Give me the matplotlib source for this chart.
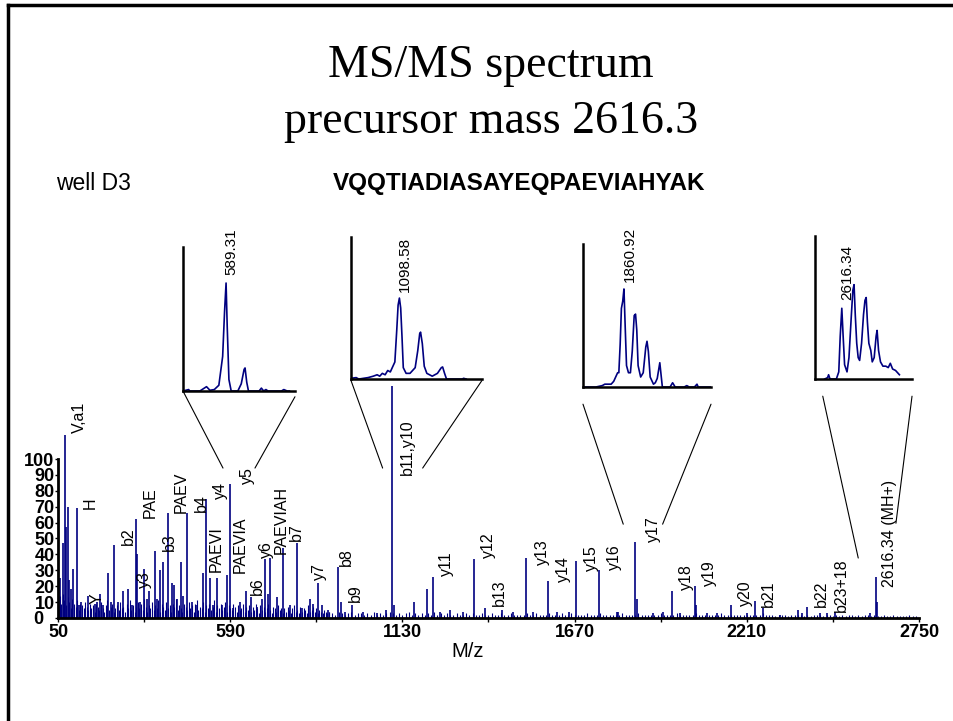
import numpy as np
import matplotlib
matplotlib.use("Agg")
import matplotlib.pyplot as plt
import matplotlib.transforms as mtransforms
from matplotlib.patches import ConnectionPatch
from matplotlib.lines import Line2D

plt.rcParams['font.family'] = ['Liberation Sans', 'DejaVu Sans']

BLUE = '#000080'

# main spectrum: labelled / notable peaks (m/z, relative intensity)
peak_mz = [51, 55, 66, 72, 75, 80, 84.5, 91, 98, 110, 115, 122, 145, 166, 171, 182, 192,
           206, 216, 225.6, 239, 255, 269.5, 281, 294.6, 297.7, 307, 319.7, 328, 336, 354,
           361, 370, 378, 394, 406.5, 415, 422, 435.7, 443, 453.5, 469, 485, 505.7, 515,
           526.6, 537, 549.6, 563, 579, 589.3, 600, 621, 639.5, 654, 673, 689, 699, 707.5,
           714.8, 735.8, 754.6, 777.5, 798.4, 814, 840, 850.6, 866, 877, 898, 927, 936.5,
           950, 973, 1007, 1049, 1078.5, 1098.6, 1103.6, 1167, 1206, 1225, 1248, 1279, 1321,
           1353.5, 1389, 1441, 1478, 1517.5, 1540, 1587.5, 1614, 1653, 1674, 1746.5, 1802,
           1807, 1860.9, 1864.6, 1917, 1948, 1974, 2000, 2046.6, 2050.6, 2084, 2115.5, 2160,
           2209.5, 2235.6, 2259.7, 2314, 2371, 2382, 2397.7, 2439.5, 2460.4, 2486.5, 2596,
           2616.3, 2619]
peak_int = [100, 25, 47, 115, 57, 70, 24, 18, 31, 69, 8, 10, 14, 9, 10, 15, 8,
            28, 10, 46, 10, 17, 18, 8, 62, 40, 10, 31, 12, 17, 42,
            12, 30, 35, 66, 22, 21, 12, 35, 14, 66, 10, 8, 28, 75,
            25, 8, 25, 8, 27, 84, 6, 10, 17, 13, 7, 12, 37, 15,
            38, 13, 44, 8, 47, 6, 12, 9, 22, 8, 5, 32, 10,
            4, 8, 4, 3, 5, 146, 8, 10, 18, 26, 4, 5, 4,
            37, 6, 5, 4, 38, 4, 23, 4, 4, 36, 30, 4,
            4, 48, 12, 3, 4, 17, 3, 20, 8, 3, 3, 8,
            3, 10.5, 6, 2, 5, 3, 7, 3, 3, 4, 3,
            26, 10]

# noise floor, 50-900 every 5 m/z and 900-2750 every 10 m/z
noise_low = [12, 14, 9, 15, 11, 8, 13, 10, 6, 12, 9, 7, 11, 5, 9, 8, 6, 10, 7, 5, 9,
             6, 8, 4, 9, 7, 5, 10, 6, 4, 8, 11, 5, 7, 9, 4, 6, 8, 5, 10, 6,
             7, 4, 9, 6, 11, 5, 8, 4, 7, 10, 6, 9, 5, 12, 7, 4, 8, 6, 10, 5,
             8, 6, 11, 4, 9, 7, 5, 10, 6, 8, 4, 9, 7, 12, 5, 8, 6, 4, 9, 7,
             5, 10, 6, 8, 4, 9, 11, 5, 7, 6, 10, 4, 8, 6, 9, 5, 7, 11, 4, 8,
             6, 9, 5, 7, 10, 4, 8, 6, 5, 9, 7, 4, 8, 5, 6, 9, 4, 7, 5, 8,
             4, 7, 5, 9, 6, 3, 8, 5, 7, 4, 6, 9, 5, 3, 7, 6, 4, 8, 5, 6,
             3, 6, 4, 7, 5, 3, 6, 8, 4, 5, 3, 7, 4, 6, 5, 3, 8, 4, 5, 7,
             4, 6, 3, 5, 4, 3, 5, 4, 3, 4]
noise_high = [4, 3, 2, 4, 3, 2, 3, 4, 2, 3,
              3, 2, 3, 2, 4, 2, 3, 2, 3, 4,
              3, 2, 3, 2, 3, 4, 2, 3, 2, 3,
              2, 3, 2, 4, 2, 3, 2, 3, 2, 2,
              3, 2, 2, 3, 2, 3, 2, 2, 3, 2,
              2, 3, 2, 2, 3, 2, 2, 3, 2, 2,
              2, 2, 3, 2, 2, 3, 2, 2, 2, 3,
              2, 2, 2, 3, 2, 2, 3, 2, 2, 2,
              2, 3, 2, 2, 2, 3, 2, 2, 2, 2,
              2, 2, 3, 2, 2, 2, 2, 3, 2, 2,
              2, 2, 2, 2, 3, 2, 2, 2, 2, 3,
              2, 2, 2, 2, 2, 3, 2, 2, 2, 2,
              2, 2, 2, 3, 2, 2, 2, 2, 2, 2,
              2, 2, 2, 2, 2, 2, 3, 2, 2, 2,
              1, 2, 2, 2, 1, 2, 2, 2, 2, 1,
              2, 1, 2, 2, 2, 1, 2, 2, 1, 2,
              1, 2, 1, 2, 2, 1, 2, 1, 2, 2,
              1, 2, 1, 1, 2, 1, 1, 2, 1, 1,
              1, 1, 2, 1, 1, 1]
noise_low_mz = np.arange(50, 901, 5)
noise_high_mz = np.arange(900, 2751, 10)

# fragment labels (text, m/z, intensity of label centre)
ion_labels = ['V,a1', 'H', 'Y', 'b2', 'y3', 'PAE', 'b3', 'PAEV', 'b4', 'PAEVI', 'y4',
              'PAEVIA', 'y5', 'b6', 'y6', 'PAEVIAH', 'b7', 'y7', 'b8', 'b9', 'b11,y10',
              'y11', 'y12', 'b13', 'y13', 'y14', 'y15', 'y16', 'y17', 'y18', 'y19', 'y20',
              'b21', 'b22', 'b23+18', '2616.34 (MH+)']
ion_mz = [116.9, 150.3, 173.3, 270.5, 319.7, 338.5, 399, 437.8, 500.6, 547.6, 560.2,
          622.9, 643.6, 675, 704.4, 749.3, 798.5, 869.4, 955.3, 981.3, 1145.3,
          1268.9, 1399.3, 1433.8, 1568.6, 1634.5, 1721.4, 1796.6, 1916.7, 2021.4, 2094.5,
          2207.4, 2277.4, 2442.6, 2507.5, 2659]
ion_y = [126.2, 72.1, 12.4, 51.6, 24.3, 72.5, 48, 78.8, 72.1, 43.4, 80.5,
         45.9, 89.5, 20.3, 42.8, 61.6, 53.9, 29.1, 38.6, 15.9, 107.7,
         34.4, 45.5, 16.1, 41.7, 30.8, 37.5, 38.2, 56, 26, 28.1,
         15.5, 15.5, 15.5, 20.8, 53.3]

x_ticks = [50, 590, 1130, 1670, 2210, 2750]
x_minor = [320, 860, 1400, 1940, 2480]
y_ticks = list(range(0, 101, 10))

# zoomed isotope clusters
inset1_mz = [587.04, 587.34, 587.39, 587.93, 588.28, 588.46, 588.69, 588.93, 589.13, 589.23,
             589.31, 589.37, 589.46, 589.58, 589.93, 590.11, 590.26, 590.31, 590.40, 590.49,
             591.05, 591.17, 591.29, 591.41, 591.52, 592.23, 592.35, 592.53, 592.65]
inset1_int = [0, 1, 0, 0, 3, 0.5, 1, 4, 24, 55, 75, 45, 8, 0, 0, 5, 15, 16, 6, 0,
              0, 2, 0, 1, 0, 0, 1, 0, 0]
inset2_mz = [1096.34, 1096.58, 1096.70, 1097.13, 1097.37, 1097.55, 1097.67, 1097.79, 1097.92,
             1098.04, 1098.16, 1098.28, 1098.37, 1098.46, 1098.52, 1098.58, 1098.64, 1098.70,
             1098.76, 1098.89, 1099.07, 1099.31, 1099.43, 1099.52, 1099.56, 1099.64, 1099.73,
             1099.85, 1100.10, 1100.34, 1100.52, 1100.58, 1100.67, 1100.76, 1101.49, 1101.55,
             1101.67]
inset2_int = [0.5, 1, 0, 1, 2, 3, 2, 4, 3, 6, 5, 9, 12, 35, 52, 57, 50, 30, 8, 4,
              4, 8, 20, 32, 33, 25, 9, 4, 2, 4, 8, 8.5, 4, 0, 0, 0.5, 0]
inset3_mz = [1857.56, 1858.61, 1859.14, 1859.35, 1859.87, 1860.08, 1860.40, 1860.50, 1860.61,
             1860.71, 1860.82, 1860.92, 1861.03, 1861.13, 1861.29, 1861.45, 1861.60, 1861.76,
             1861.87, 1861.97, 1862.08, 1862.29, 1862.50, 1862.71, 1862.81, 1862.92, 1863.07,
             1863.34, 1863.49, 1863.65, 1863.86, 1863.97, 1864.07, 1864.70, 1864.91, 1865.12,
             1865.86, 1866.07, 1866.28, 1866.70, 1866.91, 1867.01, 1868.06]
inset3_int = [0, 0, 1, 2, 2, 4, 10, 10, 30, 55, 60, 68.6, 40, 15, 10, 10, 25, 50, 51, 40,
              15, 7, 10, 28, 32, 25, 7, 2, 3, 6, 17, 8, 0, 0, 3, 0, 0, 1, 0, 0, 2, 0, 0]
inset4_mz = [2613.90, 2614.14, 2614.22, 2614.34, 2614.86, 2615.06, 2615.18, 2615.31, 2615.42,
             2615.54, 2615.74, 2615.90, 2616.10, 2616.22, 2616.32, 2616.42, 2616.54, 2616.66,
             2616.78, 2616.94, 2617.10, 2617.22, 2617.32, 2617.42, 2617.54, 2617.70, 2617.82,
             2617.98, 2618.14, 2618.22, 2618.34, 2618.50, 2618.70, 2618.94, 2619.14, 2619.31,
             2619.50, 2619.74, 2620.06]
inset4_int = [0, 1, 3, 0, 0, 5, 30, 49.5, 30, 10, 5, 15, 45, 62, 66, 45, 25, 15, 13, 25,
              45, 55, 57, 40, 25, 20, 12, 15, 30, 34, 20, 12, 9, 9, 8, 11, 7, 6, 3]

inset_labels = ['589.31', '1098.58', '1860.92', '2616.34']
inset_label_mz = [589.61, 1098.84, 1861.41, 2615.77]
inset_label_y = [80.6, 61.5, 73.7, 55.3]
inset_xlim = [(587.04, 592.94), (1096.34, 1102.40), (1857.56, 1868.06), (2613.1, 2621.1)]
# where the guide lines meet the main spectrum (m/z, intensity)
guide_left = [(567.4, 94.3), (1068, 94.3), (1822.6, 59), (2559.5, 37.7)]
guide_right = [(667.7, 94.3), (1193.6, 94.3), (1946, 59), (2677.7, 59.6)]

fig = plt.figure(figsize=(9.54, 7.21), dpi=100)

# slide frame
fig.add_artist(Line2D([0.0084, 1.0], [0.9931, 0.9931], transform=fig.transFigure,
                      color='black', lw=2.5))
fig.add_artist(Line2D([0.0084, 0.0084], [0.0, 0.9931], transform=fig.transFigure,
                      color='black', lw=2.5))

fig.text(0.515, 0.893, 'MS/MS spectrum', ha='center', va='baseline',
         family='Liberation Serif', fontsize=33)
fig.text(0.515, 0.8155, 'precursor mass 2616.3', ha='center', va='baseline',
         family='Liberation Serif', fontsize=33)
fig.text(0.059, 0.737, 'well D3', ha='left', va='baseline', fontsize=16.5)
fig.text(0.349, 0.737, 'VQQTIADIASAYEQPAEVIAHYAK', ha='left', va='baseline',
         fontsize=17.5, fontweight='bold')

ax = fig.add_axes([0.0608, 0.1429, 0.9025, 0.3307])
ax.set_facecolor('none')
ax.vlines(noise_low_mz, 0, noise_low, color=BLUE, lw=0.8)
ax.vlines(noise_high_mz, 0, noise_high, color=BLUE, lw=0.8)
ax.vlines(peak_mz, 0, peak_int, color=BLUE, lw=1.2)
ax.set_xlim(50, 2750)
ax.set_ylim(0, 150)
for s in ['top', 'right']:
    ax.spines[s].set_visible(False)
ax.spines['left'].set_bounds(0, 100)
ax.spines['left'].set_linewidth(2)
ax.spines['bottom'].set_linewidth(2)
ax.set_xticks(x_ticks)
ax.set_xticks(x_minor, minor=True)
ax.set_yticks(y_ticks)
ax.tick_params(axis='x', which='both', direction='out', length=3, width=1, pad=1,
               labelsize=13)
ax.tick_params(axis='y', direction='out', length=2, width=1, pad=0.5, labelsize=13)
for lab in ax.get_xticklabels() + ax.get_yticklabels():
    lab.set_fontweight('bold')
# the "0" on the y axis sits a little left of the others, next to the "50"
zero_lab = ax.yaxis.get_major_ticks()[0].label1
zero_lab.set_transform(zero_lab.get_transform() +
                       mtransforms.ScaledTranslation(-8 / 72, 0, fig.dpi_scale_trans))
ax.set_xlabel('M/z', fontsize=14.5, labelpad=-2)
ax.xaxis.set_label_coords(0.476, -0.1)

for txt, x, y in zip(ion_labels, ion_mz, ion_y):
    ax.text(x, y, txt, rotation=90, ha='center', va='center', fontsize=11.5)

inset_rects = [[0.1918, 0.4577, 0.1174, 0.1997],
               [0.3679, 0.4743, 0.1373, 0.1970],
               [0.6111, 0.4632, 0.1342, 0.1983],
               [0.8543, 0.4743, 0.1017, 0.1983]]
guide_start = [((0.0, 0.0), (1.0, -0.04)), ((0.0, -0.01), (1.0, -0.01)),
               ((0.0, -0.12), (1.0, -0.12)), ((0.08, -0.12), (1.0, -0.12))]
inset_data = [(inset1_mz, inset1_int), (inset2_mz, inset2_int),
              (inset3_mz, inset3_int), (inset4_mz, inset4_int)]

for i, rect in enumerate(inset_rects):
    axi = fig.add_axes(rect)
    axi.set_facecolor('none')
    mz, inten = inset_data[i]
    axi.plot(mz, inten, color=BLUE, lw=1.2)
    axi.set_xlim(*inset_xlim[i])
    axi.set_ylim(0, 100)
    axi.spines['top'].set_visible(False)
    axi.spines['right'].set_visible(False)
    axi.spines['left'].set_linewidth(1.8)
    axi.spines['bottom'].set_linewidth(1.8)
    axi.set_xticks([])
    axi.set_yticks([])
    axi.text(inset_label_mz[i], inset_label_y[i], inset_labels[i], rotation=90,
             ha='center', va='bottom', fontsize=11, clip_on=False)
    for start, end in zip(guide_start[i], (guide_left[i], guide_right[i])):
        con = ConnectionPatch(xyA=start, coordsA=axi.transAxes, xyB=end,
                              coordsB=ax.transData, color='black', lw=0.8)
        fig.add_artist(con)

fig.savefig('out.png', dpi=100)
